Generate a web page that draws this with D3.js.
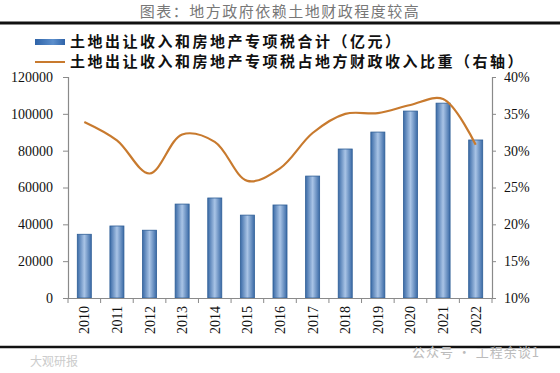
<!DOCTYPE html>
<html><head><meta charset="utf-8">
<script src="https://cdn.jsdelivr.net/npm/d3@7"></script>
<style>body{margin:0;background:#fff;}svg{display:block;}</style>
</head><body>
<svg id="c" width="560" height="373"></svg>
<script>
const years = ["2010","2011","2012","2013","2014","2015","2016","2017","2018","2019","2020","2021","2022"];
const landRevenue = [34600, 39100, 36800, 51000, 54300, 45000, 50500, 66200, 80900, 90100, 101500, 105800, 85800];
const shareOfFiscal = [33.9, 31.4, 26.9, 32.2, 31.2, 25.9, 27.6, 32.4, 35.0, 35.1, 36.2, 37.0, 30.8];
const leftTicks = [0, 20000, 40000, 60000, 80000, 100000, 120000];
const rightTicks = [10, 15, 20, 25, 30, 35, 40];
const titleText = "图表：地方政府依赖土地财政程度较高";
const legendBar = "土地出让收入和房地产专项税合计（亿元）";
const legendLine = "土地出让收入和房地产专项税占地方财政收入比重（右轴）";

const svg = d3.select("#c");
const L = 68, R = 492, T = 77, B = 298;
const serif = "'Liberation Serif','Times New Roman',serif";
const cjk = "'Noto Sans CJK SC','Noto Sans CJK JP',sans-serif";

const defs = svg.append("defs");
const g1 = defs.append("linearGradient").attr("id","barg").attr("x1","0").attr("x2","1").attr("y1","0").attr("y2","0");
g1.append("stop").attr("offset","0").attr("stop-color","#3a6aa6");
g1.append("stop").attr("offset","0.5").attr("stop-color","#a9c4e6");
g1.append("stop").attr("offset","1").attr("stop-color","#3a6aa6");
const g2 = defs.append("linearGradient").attr("id","legg").attr("x1","0").attr("x2","1").attr("y1","0").attr("y2","0");
g2.append("stop").attr("offset","0").attr("stop-color","#2f63a8");
g2.append("stop").attr("offset","0.6").attr("stop-color","#5c8fcc");
g2.append("stop").attr("offset","1").attr("stop-color","#2f63a8");

// title
svg.append("text").attr("x",280).attr("y",17).attr("text-anchor","middle")
  .attr("font-family",cjk).attr("font-size",15).attr("fill","#777").attr("letter-spacing",1.5).text(titleText);
svg.append("line").attr("x1",0).attr("x2",560).attr("y1",23).attr("y2",23).attr("stroke","#111").attr("stroke-width",3);

// scales
const x = d3.scaleBand().domain(years).range([L,R]).paddingInner(0.57).paddingOuter(0.285);
const yL = d3.scaleLinear().domain([0,120000]).range([B,T]);
const yR = d3.scaleLinear().domain([10,40]).range([B,T]);

// bars
svg.append("g").selectAll("rect").data(years).join("rect")
  .attr("x",d=>x(d)).attr("width",x.bandwidth())
  .attr("y",(d,i)=>yL(landRevenue[i])).attr("height",(d,i)=>B-yL(landRevenue[i]))
  .attr("fill","url(#barg)").attr("stroke","#2e5e96").attr("stroke-width",0.8);

// line
const line = d3.line().x((d,i)=>x(years[i])+x.bandwidth()/2).y(d=>yR(d)).curve(d3.curveCatmullRom.alpha(0.5));
svg.append("path").datum(shareOfFiscal).attr("d",line).attr("fill","none")
  .attr("stroke","#c87a2e").attr("stroke-width",2.2);

// axes
const axisCol = "#8a8a8a";
const gl = svg.append("g").attr("transform",`translate(${L},0)`)
  .call(d3.axisLeft(yL).tickValues(leftTicks).tickSize(5).tickPadding(10).tickFormat(d3.format("d")));
const gr = svg.append("g").attr("transform",`translate(${R},0)`)
  .call(d3.axisRight(yR).tickValues(rightTicks).tickSize(4).tickPadding(8).tickFormat(d=>d+"%"));
const gx = svg.append("g").attr("transform",`translate(0,${B})`)
  .call(d3.axisBottom(x).tickSize(0).tickFormat(""));
// tick marks between categories
const bounds = d3.range(years.length+1).map(i=>L + i*(R-L)/years.length);
svg.append("g").selectAll("line").data(bounds).join("line")
  .attr("x1",d=>d).attr("x2",d=>d).attr("y1",B).attr("y2",B+5).attr("stroke",axisCol);
[gl,gr,gx].forEach(g=>{
  g.selectAll(".domain").attr("stroke",axisCol).attr("stroke-width",1.2);
  g.selectAll(".tick line").attr("stroke",axisCol);
  g.selectAll("text").attr("font-family",serif).attr("font-size",14).attr("fill","#111");
});
gx.select(".domain").attr("d",`M${L},0.5H${R}`);
// x labels rotated
svg.append("g").selectAll("text").data(years).join("text")
  .attr("transform",d=>`translate(${x(d)+x.bandwidth()/2+5},${B+8}) rotate(-90)`)
  .attr("text-anchor","end").attr("font-family",serif).attr("font-size",14).attr("fill","#111").text(d=>d);

// legend
svg.append("rect").attr("x",35).attr("y",39).attr("width",30).attr("height",6).attr("fill","url(#legg)");
svg.append("text").attr("x",70).attr("y",47).attr("font-family",cjk).attr("font-weight","bold")
  .attr("font-size",15).attr("letter-spacing",2.5).attr("fill","#111").text(legendBar);
svg.append("line").attr("x1",35).attr("x2",65).attr("y1",62).attr("y2",62).attr("stroke","#c87a2e").attr("stroke-width",2);
svg.append("text").attr("x",70).attr("y",66.5).attr("font-family",cjk).attr("font-weight","bold")
  .attr("font-size",15).attr("letter-spacing",2.5).attr("fill","#111").text(legendLine);

// bottom line & watermark
svg.append("line").attr("x1",0).attr("x2",560).attr("y1",347).attr("y2",347).attr("stroke","#111").attr("stroke-width",2.5);
svg.append("text").attr("x",540).attr("y",357).attr("text-anchor","end").attr("font-family",cjk)
  .attr("font-size",13).attr("fill","#bbb").attr("letter-spacing",1).text("公众号 · 工程余谈1");
svg.append("text").attr("x",30).attr("y",366).attr("font-family",cjk)
  .attr("font-size",12).attr("fill","#ccc").text("大观研报");
</script>
</body></html>
